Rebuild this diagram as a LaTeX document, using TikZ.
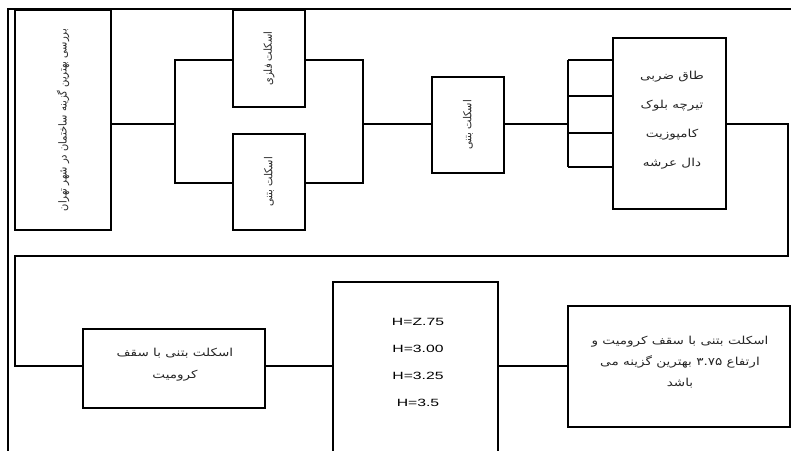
\documentclass[tikz,border=0pt]{standalone}
\usepackage{fontspec}
\TeXXeTstate=1
\newfontfamily\arabicfont[Script=Arabic,FakeStretch=0.9]{DejaVu Sans}
\newfontfamily\arabicwide[Script=Arabic,FakeStretch=1.23]{DejaVu Sans}
\newfontfamily\latinwide[FakeStretch=1.5]{Liberation Sans}
\begin{document}
\begin{tikzpicture}[x=1pt,y=-1pt,
  bx/.style={draw,line width=2.2pt,inner sep=0pt,outer sep=0pt,align=center,text=black!85},
  conn/.style={line width=2pt},
  frame/.style={line width=1.8pt},
  txt/.style={align=center,inner sep=0pt,text=black!85}]
\useasboundingbox (0,0) rectangle (791,450);
\begin{scope}
\clip (0,0) rectangle (791,450);
% frame
\draw[frame] (8,455) -- (8,9) -- (795,9);
% boxes
\node[bx,minimum width=96pt,minimum height=220pt] (b1) at (63,120)
  {\rotatebox{90}{\arabicfont\fontsize{11}{13}\selectfont\beginR بررسی بهترین گزینه ساختمان در شهر تهران\endR}};
\node[bx,minimum width=72pt,minimum height=97pt] (b2) at (269,58.5)
  {\rotatebox{90}{\arabicfont\fontsize{11}{13}\selectfont\beginR اسکلت فلزی\endR}};
\node[bx,minimum width=72pt,minimum height=96pt] (b3) at (269,182)
  {\rotatebox{90}{\arabicfont\fontsize{11}{13}\selectfont\beginR اسکلت بتنی\endR}};
\node[bx,minimum width=72pt,minimum height=96pt] (b4) at (468,125)
  {\rotatebox{90}{\arabicfont\fontsize{11}{13}\selectfont\beginR اسکلت بتنی\endR}};
\node[bx,minimum width=113pt,minimum height=171pt] (b5) at (669.5,123.5) {};
\node[txt,font=\arabicwide\fontsize{11}{29}\selectfont] (b5t) at (672,120)
  {\beginR طاق ضربی\endR\\\beginR تیرچه بلوک\endR\\\beginR کامپوزیت\endR\\\beginR دال عرشه\endR};
\node[bx,minimum width=182pt,minimum height=79pt] (b6) at (174,368.5) {};
\node[txt,font=\arabicwide\fontsize{11}{22}\selectfont] (b6t) at (175,365)
  {\beginR اسکلت بتنی با سقف\endR\\\beginR کرومیت\endR};
\node[bx,minimum width=165pt,minimum height=188pt] (b7) at (415.5,376) {};
\node[txt,text=black,font=\latinwide\fontsize{10.5}{27}\selectfont] (b7t) at (418,362.5)
  {H=Z.75\\H=3.00\\H=3.25\\H=3.5};
\node[bx,minimum width=222pt,minimum height=121pt] (b8) at (679,366.5) {};
\node[txt,font=\arabicwide\fontsize{11}{21}\selectfont] (b8t) at (680,362)
  {\beginR اسکلت بتنی با سقف کرومیت و\endR\\\beginR ارتفاع \beginL ۳.۷۵\endL{} بهترین گزینه می\endR\\\beginR باشد\endR};
% junction coordinates
\coordinate (jL) at (175,124);
\coordinate (jLt) at (175,60);
\coordinate (jLb) at (175,183);
\coordinate (jR) at (363,124);
\coordinate (jRt) at (363,60);
\coordinate (jRb) at (363,183);
\coordinate (k) at (568,124);
\coordinate (k1) at (568,60);
\coordinate (k2) at (568,96);
\coordinate (k3) at (568,133);
\coordinate (k4) at (568,167);
\coordinate (r1) at (788,124);
\coordinate (r2) at (788,256);
\coordinate (r3) at (15,256);
\coordinate (r4) at (15,366);
% connectors
\draw[conn] (b1.east |- jL) -- (jL);
\draw[conn] (jLt -| b2.west) -- (jLt) -- (jLb) -- (jLb -| b3.west);
\draw[conn] (jRt -| b2.east) -- (jRt) -- (jRb) -- (jRb -| b3.east);
\draw[conn] (jR) -- (jR -| b4.west);
\draw[conn] (b4.east |- k) -- (k);
\draw[conn] (k1) -- (k4);
\draw[conn] (k1) -- (k1 -| b5.west);
\draw[conn] (k2) -- (k2 -| b5.west);
\draw[conn] (k3) -- (k3 -| b5.west);
\draw[conn] (k4) -- (k4 -| b5.west);
\draw[conn] (b5.east |- r1) -- (r1) -- (r2) -- (r3) -- (r4) -- (r4 -| b6.west);
\draw[conn] (b6.east |- r4) -- (r4 -| b7.west);
\draw[conn] (b7.east |- r4) -- (r4 -| b8.west);
\end{scope}
\end{tikzpicture}
\end{document}
